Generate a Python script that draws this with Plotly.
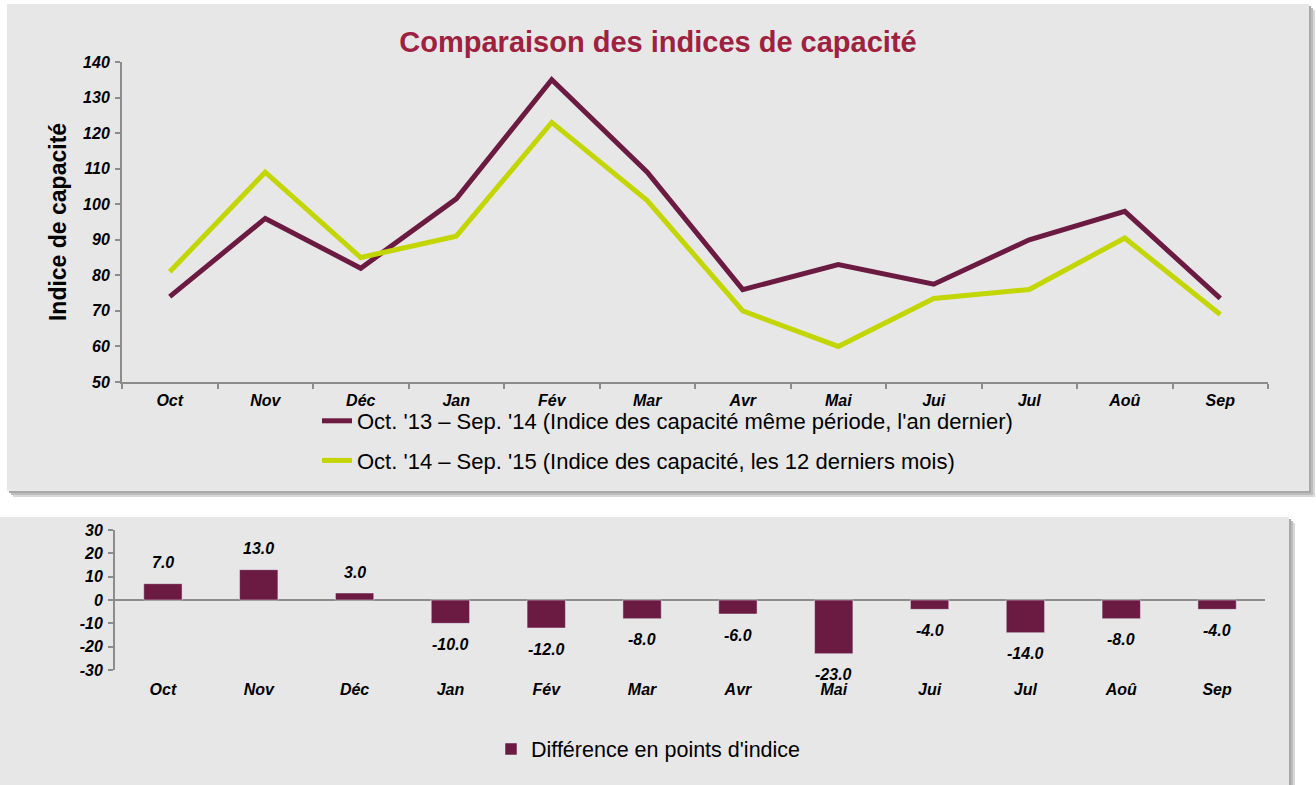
import plotly.graph_objects as go

months = ["Oct", "Nov", "Déc", "Jan", "Fév", "Mar", "Avr", "Mai", "Jui", "Jul", "Aoû", "Sep"]
prev_year = [74, 96, 82, 101.5, 135, 109, 76, 83, 77.5, 90, 98, 73.5]
last_12 = [81, 109, 85, 91, 123, 101, 70, 60, 73.5, 76, 90.5, 69]
diff = [7.0, 13.0, 3.0, -10.0, -12.0, -8.0, -6.0, -23.0, -4.0, -14.0, -8.0, -4.0]
diff_ticks = [-30, -20, -10, 0, 10, 20, 30]
diff_tick_labels = ["-30", "-20", "-10", "0", "10", "20", "30"]

name_prev = "Oct. '13 – Sep. '14 (Indice des capacité même période, l'an dernier)"
name_last = "Oct. '14 – Sep. '15 (Indice des capacité, les 12 derniers mois)"
name_diff = "Différence en points d'indice"

W, H = 1316, 785
PURPLE = "#6b1a41"
GREEN = "#c3d600"
PANEL = "#e7e7e7"
AXIS = "#8c8c8c"
FONT = "Liberation Sans, Arial, sans-serif"

def px(x):
    return x / W

def py(y):
    return 1 - y / H

tickfont = dict(family=FONT, size=16, color="black", weight="bold", style="italic")

fig = go.Figure()

fig.add_trace(go.Scatter(x=months, y=prev_year, mode="lines", name=name_prev,
                         line=dict(color=PURPLE, width=5), xaxis="x", yaxis="y",
                         legend="legend", legendgroup="a"))
fig.add_trace(go.Scatter(x=months, y=last_12, mode="lines", name=name_last,
                         line=dict(color=GREEN, width=5), xaxis="x", yaxis="y",
                         legend="legend", legendgroup="b"))
fig.add_trace(go.Bar(x=months, y=diff, name=name_diff, marker=dict(color=PURPLE),
                     xaxis="x2", yaxis="y2", legend="legend2"))

# data labels for the bars, offset from the bar ends
annotations = []
for m, v in zip(months, diff):
    annotations.append(dict(x=m, y=v, xref="x2", yref="y2", text=f"{v:.1f}",
                            showarrow=False, font=tickfont, xanchor="center",
                            yanchor="middle", yshift=21 if v >= 0 else -21))

shapes = []
def panel(x0, y0, x1, y1):
    for off, col in [(6, "#d8d8d8"), (4, "#bdbdbd"), (2, "#a8a8a8")]:
        shapes.append(dict(type="rect", xref="paper", yref="paper",
                           x0=px(x0 + off), x1=px(x1 + off), y0=py(y1 + off), y1=py(y0 + off),
                           fillcolor=col, line=dict(width=0), layer="below"))
    shapes.append(dict(type="rect", xref="paper", yref="paper",
                       x0=px(x0), x1=px(x1), y0=py(y1), y1=py(y0),
                       fillcolor=PANEL, line=dict(width=0), layer="below"))

panel(7, 4, 1309, 491)
panel(0, 517, 1289, 800)

fig.update_layout(
    shapes=shapes,
    annotations=annotations,
    width=W, height=H, autosize=False,
    margin=dict(l=0, r=0, t=0, b=0, autoexpand=False),
    paper_bgcolor="white",
    plot_bgcolor="rgba(0,0,0,0)",
    font=dict(family=FONT, color="black"),
    title=dict(text="Comparaison des indices de capacité",
               font=dict(family=FONT, size=29, color="#9e2140", weight="bold"),
               x=0.5, xanchor="center", y=py(42), yanchor="middle"),
    xaxis=dict(domain=[px(122), px(1268)], anchor="y", range=[-0.5, 11.5],
               showline=True, linecolor=AXIS, automargin=False,
               linewidth=2, ticks="outside", tickson="boundaries", tickcolor=AXIS,
               ticklen=5, tickwidth=2, tickfont=tickfont, showgrid=False,
               ticklabelstandoff=3),
    yaxis=dict(domain=[py(382), py(62)], anchor="x", range=[50, 140], dtick=10,
               showline=True, linecolor=AXIS, linewidth=2, ticks="outside",
               tickcolor=AXIS, ticklen=5, tickwidth=2, tickfont=tickfont,
               showgrid=False, zeroline=False, automargin=False, ticklabelstandoff=2,
               title=dict(text="Indice de capacité",
                          font=dict(family=FONT, size=23, color="black", weight="bold"),
                          standoff=10)),
    xaxis2=dict(domain=[px(115), px(1265)], anchor="y2", range=[-0.5, 11.5],
                showline=False, ticks="", automargin=False,
                tickfont=tickfont, showgrid=False, ticklabelstandoff=8),
    yaxis2=dict(domain=[py(670), py(530)], anchor="x2", range=[-30, 30],
                tickmode="array", tickvals=diff_ticks, ticktext=diff_tick_labels,
                showline=True, linecolor=AXIS, linewidth=2, ticks="outside",
                tickcolor=AXIS, ticklen=5, tickwidth=2, tickfont=tickfont,
                automargin=False, ticklabelstandoff=2,
                showgrid=False, zeroline=True, zerolinecolor=AXIS, zerolinewidth=2),
    bargap=0.6,
    showlegend=True,
    legend=dict(x=px(317), y=py(400), xanchor="left", yanchor="top",
                bgcolor="rgba(0,0,0,0)", tracegroupgap=8, itemwidth=30,
                font=dict(family=FONT, size=22, color="black")),
    legend2=dict(x=px(491), y=py(749), xanchor="left", yanchor="middle",
                 bgcolor="rgba(0,0,0,0)", itemwidth=30,
                 font=dict(family=FONT, size=21.5, color="black")),
)

fig.write_html("out.html", config={"displayModeBar": False},
               post_script="document.body.style.margin='0px';document.body.style.overflow='hidden';")
